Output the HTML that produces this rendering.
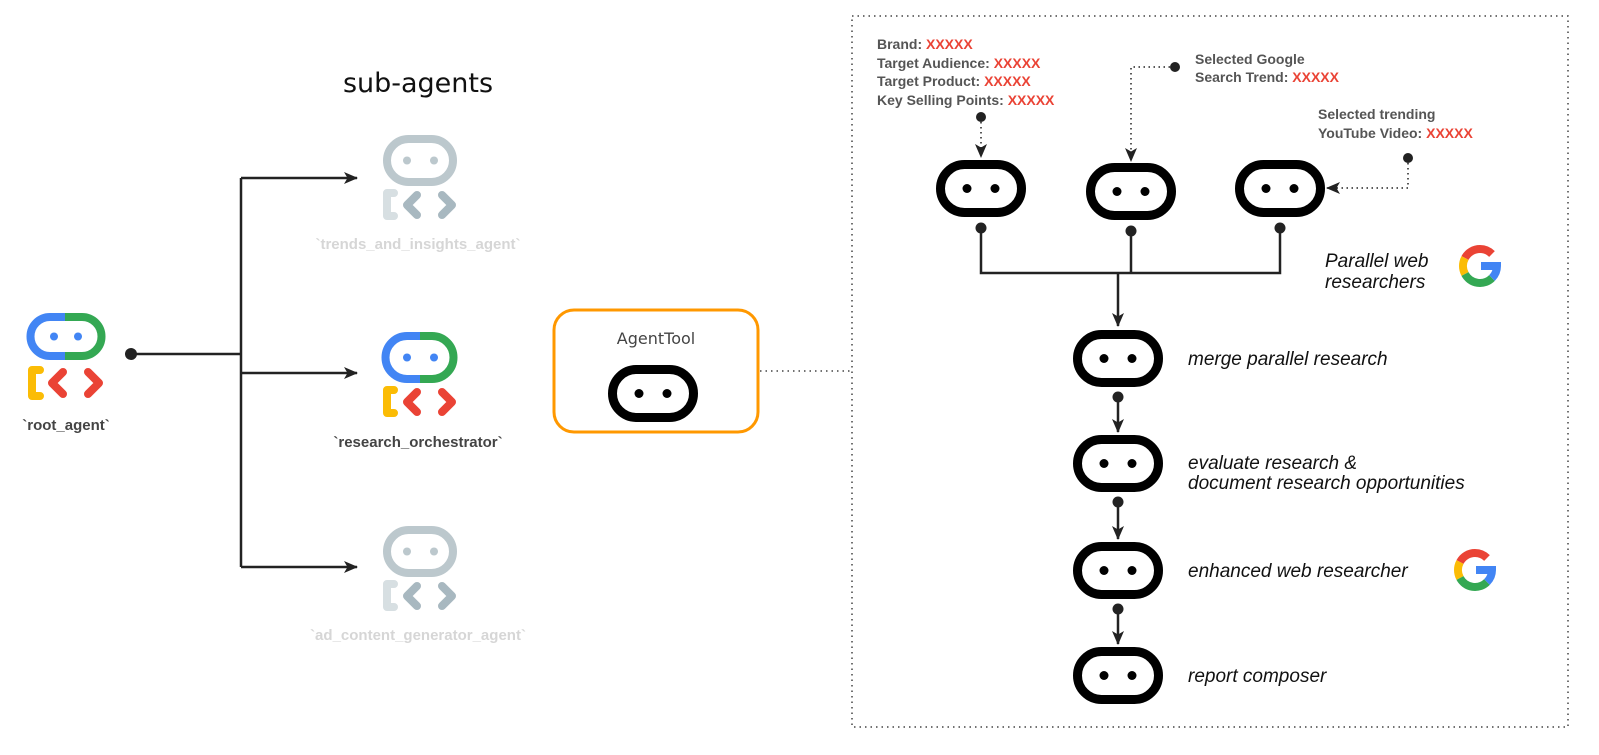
<!DOCTYPE html>
<html><head><meta charset="utf-8"><style>
html,body{margin:0;padding:0;background:#fff;}
svg{display:block;}
.lbl{font-family:"Liberation Sans","DejaVu Sans",sans-serif;font-weight:bold;font-size:15px;}
.it{font-family:"Liberation Sans",sans-serif;font-style:italic;font-size:19px;fill:#111;}
.in{font-family:"Liberation Sans",sans-serif;font-weight:bold;font-size:14px;fill:#555;}
.red{fill:#EA4335;}
</style></head><body>
<svg width="1599" height="755" viewBox="0 0 1599 755" xmlns="http://www.w3.org/2000/svg">
<defs>
<marker id="ah" markerWidth="14" markerHeight="12" refX="13" refY="6" orient="auto" markerUnits="userSpaceOnUse">
<path d="M0,0 L14,6 L0,12 L3.5,6 Z" fill="#222"/></marker>
<g id="pill"><rect x="4.5" y="4.5" width="81" height="48" rx="24" fill="#fff" stroke="#000" stroke-width="9"/>
<circle cx="31" cy="28.5" r="4.5" fill="#000"/><circle cx="59" cy="28.5" r="4.5" fill="#000"/></g>
<g id="gicon">
<path d="M0,-17 A17,17 0 0 0 -15,-8" stroke="#EA4335" stroke-width="8" fill="none"/>
<path d="M-15,-8 A17,17 0 0 0 -15,8" stroke="#FBBC05" stroke-width="8" fill="none"/>
<path d="M-15,8 A17,17 0 0 0 12,12" stroke="#34A853" stroke-width="8" fill="none"/>
<path d="M12,-12 A17,17 0 0 0 0,-17" stroke="#EA4335" stroke-width="8" fill="none"/>
<path d="M12,12 A17,17 0 0 0 17,0 L1,0" stroke="#4285F4" stroke-width="8" fill="none"/>
</g>
</defs>

<!-- root agent -->
<path d="M65,317 L50,317 A19.5,19.5 0 0 0 50,356 L65,356" stroke="#4285F4" stroke-width="8" fill="none"/>
<path d="M65,317 L82,317 A19.5,19.5 0 0 1 82,356 L65,356" stroke="#34A853" stroke-width="8" fill="none"/>
<circle cx="54" cy="336.5" r="4" fill="#4285F4"/><circle cx="78" cy="336.5" r="4" fill="#4285F4"/>
<path d="M40,370 L32,370 L32,396 L40,396" stroke="#FBBC05" stroke-width="8" fill="none" stroke-linecap="round" stroke-linejoin="round"/>
<path d="M63,372 L52,383 L63,394" stroke="#EA4335" stroke-width="8" fill="none" stroke-linecap="round" stroke-linejoin="round"/>
<path d="M88,372 L99,383 L88,394" stroke="#EA4335" stroke-width="8" fill="none" stroke-linecap="round" stroke-linejoin="round"/>
<text x="66" y="430" text-anchor="middle" class="lbl" fill="#444">`root_agent`</text>

<!-- connectors left -->
<circle cx="131" cy="354" r="6" fill="#222"/>
<path d="M131,354 L241,354 M241,178 L241,567" stroke="#222" stroke-width="2.5" fill="none"/>
<path d="M241,178 L357,178" stroke="#222" stroke-width="2.5" marker-end="url(#ah)"/>
<path d="M241,373 L357,373" stroke="#222" stroke-width="2.5" marker-end="url(#ah)"/>
<path d="M241,567 L357,567" stroke="#222" stroke-width="2.5" marker-end="url(#ah)"/>

<text x="418" y="92" text-anchor="middle" font-family="'Comic Sans MS','DejaVu Sans',sans-serif" font-size="27" fill="#111">sub-agents</text>

<!-- trends (grey) -->
<rect x="387" y="139" width="66" height="43" rx="21.5" fill="none" stroke="#BCC8CD" stroke-width="8"/>
<circle cx="407" cy="160.5" r="4" fill="#BCC8CD"/><circle cx="434" cy="160.5" r="4" fill="#BCC8CD"/>
<path d="M394,193 L387,193 L387,216 L394,216" stroke="#D7DFE2" stroke-width="8" fill="none" stroke-linecap="round" stroke-linejoin="round"/>
<path d="M417,195 L407,205 L417,215" stroke="#A8B8C0" stroke-width="8" fill="none" stroke-linecap="round" stroke-linejoin="round"/>
<path d="M442,195 L452,205 L442,215" stroke="#A8B8C0" stroke-width="8" fill="none" stroke-linecap="round" stroke-linejoin="round"/>
<text x="418" y="249" text-anchor="middle" class="lbl" fill="#D6D6D6">`trends_and_insights_agent`</text>

<!-- research orchestrator -->
<path d="M420,336 L407,336 A21.5,21.5 0 0 0 407,379 L420,379" stroke="#4285F4" stroke-width="8" fill="none"/>
<path d="M420,336 L432,336 A21.5,21.5 0 0 1 432,379 L420,379" stroke="#34A853" stroke-width="8" fill="none"/>
<circle cx="407" cy="357.5" r="4" fill="#4285F4"/><circle cx="434" cy="357.5" r="4" fill="#4285F4"/>
<path d="M394,390 L387,390 L387,413 L394,413" stroke="#FBBC05" stroke-width="8" fill="none" stroke-linecap="round" stroke-linejoin="round"/>
<path d="M417,392 L407,402 L417,412" stroke="#EA4335" stroke-width="8" fill="none" stroke-linecap="round" stroke-linejoin="round"/>
<path d="M442,392 L452,402 L442,412" stroke="#EA4335" stroke-width="8" fill="none" stroke-linecap="round" stroke-linejoin="round"/>
<text x="418" y="447" text-anchor="middle" class="lbl" fill="#444">`research_orchestrator`</text>

<!-- ad content (grey) -->
<rect x="387" y="530" width="66" height="43" rx="21.5" fill="none" stroke="#BCC8CD" stroke-width="8"/>
<circle cx="407" cy="551.5" r="4" fill="#BCC8CD"/><circle cx="434" cy="551.5" r="4" fill="#BCC8CD"/>
<path d="M394,584 L387,584 L387,607 L394,607" stroke="#D7DFE2" stroke-width="8" fill="none" stroke-linecap="round" stroke-linejoin="round"/>
<path d="M417,586 L407,596 L417,606" stroke="#A8B8C0" stroke-width="8" fill="none" stroke-linecap="round" stroke-linejoin="round"/>
<path d="M442,586 L452,596 L442,606" stroke="#A8B8C0" stroke-width="8" fill="none" stroke-linecap="round" stroke-linejoin="round"/>
<text x="418" y="640" text-anchor="middle" class="lbl" fill="#D6D6D6">`ad_content_generator_agent`</text>

<!-- AgentTool -->
<rect x="554" y="310" width="204" height="122" rx="20" fill="#fff" stroke="#FF9800" stroke-width="3"/>
<text x="656" y="344" text-anchor="middle" font-family="'Comic Sans MS','DejaVu Sans',sans-serif" font-size="16" fill="#444">AgentTool</text>
<use href="#pill" x="608" y="365"/>
<path d="M760,371 L852,371" stroke="#444" stroke-width="1.5" stroke-dasharray="1.5,4"/>

<!-- dotted container -->
<rect x="852" y="16" width="716" height="711" fill="none" stroke="#444" stroke-width="1.5" stroke-dasharray="1.5,4"/>

<!-- inputs -->
<text class="in" x="877" y="49">Brand: <tspan class="red">XXXXX</tspan></text>
<text class="in" x="877" y="68">Target Audience: <tspan class="red">XXXXX</tspan></text>
<text class="in" x="877" y="86">Target Product: <tspan class="red">XXXXX</tspan></text>
<text class="in" x="877" y="105">Key Selling Points: <tspan class="red">XXXXX</tspan></text>
<text class="in" x="1195" y="64">Selected Google</text>
<text class="in" x="1195" y="82">Search Trend: <tspan class="red">XXXXX</tspan></text>
<text class="in" x="1318" y="119">Selected trending</text>
<text class="in" x="1318" y="138">YouTube Video: <tspan class="red">XXXXX</tspan></text>

<!-- parallel pills -->
<use href="#pill" x="936" y="160"/>
<use href="#pill" x="1086" y="163"/>
<use href="#pill" x="1235" y="160"/>

<circle cx="981" cy="117" r="5" fill="#222"/>
<path d="M981,117 L981,157" stroke="#222" stroke-width="1.5" stroke-dasharray="1.5,3.5" marker-end="url(#ah)"/>
<circle cx="1175" cy="67" r="5" fill="#222"/>
<path d="M1175,67 L1131,67 L1131,161" stroke="#222" stroke-width="1.5" stroke-dasharray="1.5,3.5" fill="none" marker-end="url(#ah)"/>
<circle cx="1408" cy="158" r="5" fill="#222"/>
<path d="M1408,158 L1408,188 L1327,188" stroke="#222" stroke-width="1.5" stroke-dasharray="1.5,3.5" fill="none" marker-end="url(#ah)"/>

<circle cx="981" cy="228" r="5.5" fill="#222"/>
<circle cx="1131" cy="231" r="5.5" fill="#222"/>
<circle cx="1280" cy="228" r="5.5" fill="#222"/>
<path d="M981,228 L981,273 L1280,273 L1280,228 M1131,231 L1131,273" stroke="#222" stroke-width="2.5" fill="none"/>
<path d="M1118,273 L1118,326" stroke="#222" stroke-width="2.5" marker-end="url(#ah)"/>
<text class="it" x="1325" y="267">Parallel web</text>
<text class="it" x="1325" y="288">researchers</text>
<use href="#gicon" transform="translate(1480,266)"/>

<!-- chain -->
<use href="#pill" x="1073" y="330"/>
<use href="#pill" x="1073" y="435"/>
<use href="#pill" x="1073" y="542"/>
<use href="#pill" x="1073" y="647"/>
<circle cx="1118" cy="397" r="5.5" fill="#222"/><path d="M1118,397 L1118,432" stroke="#222" stroke-width="2.5" marker-end="url(#ah)"/>
<circle cx="1118" cy="502" r="5.5" fill="#222"/><path d="M1118,502 L1118,539" stroke="#222" stroke-width="2.5" marker-end="url(#ah)"/>
<circle cx="1118" cy="609" r="5.5" fill="#222"/><path d="M1118,609 L1118,644" stroke="#222" stroke-width="2.5" marker-end="url(#ah)"/>
<text class="it" x="1188" y="365">merge parallel research</text>
<text class="it" x="1188" y="469">evaluate research &amp;</text>
<text class="it" x="1188" y="489">document research opportunities</text>
<text class="it" x="1188" y="577">enhanced web researcher</text>
<text class="it" x="1188" y="682">report composer</text>
<use href="#gicon" transform="translate(1475,570)"/>
</svg>
</body></html>
